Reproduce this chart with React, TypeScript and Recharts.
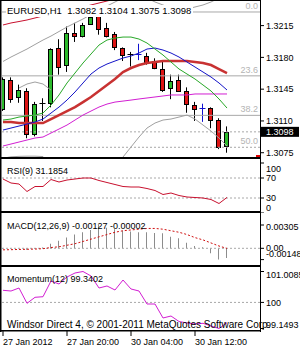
import React from "react";
import { ComposedChart, Line, Bar, XAxis, YAxis, ReferenceLine } from "recharts";

const FONT = '"Liberation Sans", Arial, sans-serif';
const X_DOMAIN: [number, number] = [-0.125, 32.125];

// EURUSD H1 candles
const open = [1.3123, 1.3155, 1.3136, 1.3143, 1.3096, 1.313, 1.313, 1.319, 1.3172, 1.3207, 1.3204, 1.3217, 1.3226, 1.3212, 1.3206, 1.319, 1.3184, 1.3184, 1.3182, 1.3176, 1.3167, 1.3146, 1.3155, 1.3143, 1.3128, 1.3124, 1.3124, 1.3111, 1.3082];
const high = [1.3158, 1.3158, 1.315, 1.3146, 1.3131, 1.3135, 1.319, 1.32, 1.3214, 1.3218, 1.3218, 1.3227, 1.3227, 1.3218, 1.3208, 1.3191, 1.3186, 1.3195, 1.3185, 1.3179, 1.3175, 1.3161, 1.3161, 1.3147, 1.3131, 1.3129, 1.3125, 1.3113, 1.3104];
const low = [1.3121, 1.313, 1.313, 1.3091, 1.3093, 1.311, 1.3125, 1.3161, 1.3164, 1.3197, 1.3202, 1.3216, 1.3205, 1.3202, 1.3188, 1.3176, 1.317, 1.3177, 1.3172, 1.3167, 1.3142, 1.3134, 1.3142, 1.3119, 1.311, 1.3109, 1.3102, 1.3079, 1.3075];
const close = [1.3156, 1.3134, 1.3144, 1.3096, 1.3129, 1.313, 1.3189, 1.3169, 1.3207, 1.3204, 1.3216, 1.3225, 1.3211, 1.3204, 1.3191, 1.3183, 1.3184, 1.31841, 1.3175, 1.3168, 1.3144, 1.3154, 1.3143, 1.3129, 1.3123, 1.31241, 1.3111, 1.3081, 1.3098];

// moving averages and bands
const maFast = [1.3111, 1.31121, 1.31143, 1.31154, 1.31165, 1.31187, 1.31275, 1.31386, 1.31518, 1.31628, 1.31738, 1.31837, 1.31936, 1.31991, 1.32013, 1.32024, 1.32024, 1.32002, 1.31958, 1.31892, 1.31826, 1.31749, 1.31672, 1.31617, 1.31562, 1.31496, 1.3143, 1.31342, 1.31242];
const maMid = [1.31, 1.31022, 1.31044, 1.31066, 1.31088, 1.31121, 1.31187, 1.31253, 1.3133, 1.31419, 1.31518, 1.31617, 1.31683, 1.31727, 1.3176, 1.31793, 1.31815, 1.31848, 1.31892, 1.31903, 1.31881, 1.31848, 1.31804, 1.31749, 1.31694, 1.31639, 1.31584, 1.31518, 1.31441];
const maSlow = [1.31088, 1.31088, 1.31077, 1.31077, 1.31077, 1.31077, 1.31121, 1.31165, 1.31209, 1.31253, 1.31308, 1.31364, 1.3143, 1.31496, 1.31562, 1.31639, 1.31683, 1.31716, 1.31738, 1.31749, 1.3176, 1.3176, 1.3176, 1.3176, 1.31749, 1.31738, 1.31716, 1.31672, 1.31628];
const maLong = [1.30824, 1.30846, 1.30868, 1.3089, 1.30912, 1.30923, 1.30967, 1.31011, 1.31055, 1.3111, 1.31165, 1.31209, 1.31253, 1.31286, 1.31308, 1.31319, 1.3133, 1.31342, 1.31353, 1.31364, 1.31375, 1.31386, 1.31386, 1.31386, 1.31397, 1.31397, 1.31397, 1.31397, 1.31397];
const trendLine = [1.32157, 1.32179, 1.32195, 1.32212, 1.32234, 1.32256, 1.32272, 1.32292, 1.32311, 1.32333, 1.32355, 1.32377, 1.32399, 1.32421, 1.32443, null, null, null, null, null, null, null, null, null, null, null, null, null, null];
const bandUpper = [1.31755, 1.31804, 1.31848, 1.31892, 1.31942, 1.31991, 1.32035, 1.32085, 1.32135, 1.32179, 1.32223, 1.32272, 1.32322, 1.32366, 1.3241, 1.32454, 1.32476, 1.32476, 1.32454, 1.3241, 1.32377, 1.32344, 1.32322, 1.32333, 1.32355, 1.32377, 1.3241, 1.32454, 1.32498];
const bandLower = [1.3069, 1.30705, 1.3071, 1.30712, 1.30712, 1.30708, 1.3062, 1.3052, 1.30445, 1.3038, 1.30335, 1.3031, 1.3031, 1.30335, 1.30581, 1.30703, 1.30813, 1.30923, 1.31022, 1.31077, 1.3111, 1.31121, 1.31143, 1.31165, 1.31121, 1.31055, 1.30989, 1.30912, 1.30824];
const bandArc = [null, null, 1.31463, 1.31507, 1.31529, 1.31507, 1.3144, null, null, null, null, null, null, null, null, null, null, null, null, null, null, null, null, null, null, null, null, null, null];

// Fibonacci retracement
const fibHigh = 1.323;
const fibLow = 1.2932;
const fibLevels = [0, 23.6, 38.2, 50.0];
const bid = 1.3098;
const priceTicks = [1.3215, 1.318, 1.3145, 1.311, 1.3075];

// indicators
const rsi = [68, 60, 58, 43, 53, 53, 67, 62, 66, 68, 70, 70, 65, 61, 57, 53, 52, 52, 49, 45, 37, 40, 35, 32, 31, 30, 27, 19, 31.1854];
const rsiTicks = [100, 70, 30, 0];
const macdMain = [-0.0001, -0.00005, 0, -0.0002, -0.0001, 0.0001, 0.0006, 0.001, 0.0014, 0.0018, 0.0021, 0.0024, 0.00305, 0.0027, 0.0025, 0.0023, 0.0022, 0.0021, 0.0021, 0.002, 0.00196, 0.00152, 0.00131, 0.00073, 0.0003, 0.00013, -0.00065, -0.00148, -0.00127];
const macdSignal = [-0.0002, -0.00018, -0.00015, -0.00013, -0.0001, -0.00005, 0.0001, 0.0002, 0.0004, 0.0006, 0.0009, 0.0012, 0.0015, 0.0018, 0.0021, 0.0023, 0.0024, 0.0025, 0.0026, 0.0026, 0.0025, 0.0023, 0.0021, 0.0018, 0.0014, 0.0011, 0.0007, 0.0003, -0.00002];
const macdTicks = [0.00305, 0, -0.00148];
const momentum = [100.395, 100.372, 100.47, 99.971, 100.167, 100.186, 100.699, 100.601, 100.829, 100.96, 101.0085, 100.862, 100.47, 100.536, 100.405, 100.731, 100.438, 100.372, 99.948, 99.948, 99.492, 99.557, 99.378, 99.329, 99.296, 99.319, 99.231, 99.1493, 99.3402];
const momTicks = [101.0085, 100, 99.1493];

// time axis
const timeTickBars = [0, 8, 16, 24];
const timeTickLabels = ["27 Jan 2012", "27 Jan 20:00", "30 Jan 04:00", "30 Jan 12:00"];

const rows = open.map((o, i) => ({
  i,
  o,
  h: high[i],
  l: low[i],
  c: close[i],
  fast: maFast[i],
  mid: maMid[i],
  slow: maSlow[i],
  long: maLong[i],
  trend: trendLine[i],
  upper: bandUpper[i],
  lower: bandLower[i],
  arc: bandArc[i],
  rsi: rsi[i],
  macd: macdMain[i],
  signal: macdSignal[i],
  mom: momentum[i],
}));

const Candle = (props: any) => {
  const { x, y, width, height, payload } = props;
  const { o, h, l, c } = payload;
  const top = Math.min(y, y + height);
  const span = Math.abs(height);
  const py = (v: number) => top + ((h - v) / (h - l)) * span;
  const cx = Math.floor(x + width / 2) + 0.5;
  const doji = Math.abs(c - o) < 0.00005;
  if (doji) {
    const ink = c > o ? "#1010d0" : "#000";
    const yo = Math.round(py(o)) + 0.5;
    return (
      <g>
        <line x1={cx} x2={cx} y1={py(h)} y2={py(l)} stroke={ink} />
        <line x1={cx - 3} x2={cx + 3} y1={yo} y2={yo} stroke={ink} />
      </g>
    );
  }
  const yTop = Math.round(py(Math.max(o, c))) + 0.5;
  const yBot = Math.round(py(Math.min(o, c))) + 0.5;
  return (
    <g>
      <line x1={cx} x2={cx} y1={py(h)} y2={py(l)} stroke="#000" />
      <rect x={cx - 2} y={yTop} width={4} height={Math.max(1, yBot - yTop)} fill={c > o ? "#2cba2c" : "#dc1414"} stroke="#000" />
    </g>
  );
};

const axisTick = (fmt: (v: number) => string, shift: Record<string, number> = {}) => (props: any) => {
  const { x, y, payload } = props;
  const dy = shift[String(payload.value)] ?? 0;
  return (
    <text x={x} y={y + dy} dy="0.35em" fontSize={9} fontFamily={FONT} fill="#000">
      {fmt(payload.value)}
    </text>
  );
};

const TimeTick = (props: any) => {
  const { x, y, payload } = props;
  const idx = timeTickBars.indexOf(payload.value);
  return (
    <text x={Math.floor(x)} y={y + 9} fontSize={9} fontFamily={FONT} fill="#000">
      {timeTickLabels[idx]}
    </text>
  );
};

const fibLabel = (lvl: number) => (props: any) => {
  const vb = props.viewBox;
  return (
    <text x={vb.x + vb.width - 2} y={vb.y - 3} textAnchor="end" fontSize={9} fontFamily={FONT} fill="#b4b4b4">
      {lvl.toFixed(1)}
    </text>
  );
};

const BidTag = (props: any) => {
  const vb = props.viewBox;
  return (
    <g>
      <rect x={vb.x + vb.width + 1} y={vb.y - 5} width={38} height={10} fill="#000" />
      <text x={vb.x + vb.width + 6} y={vb.y} dy="0.35em" fontSize={9} fontFamily={FONT} fill="#fff">
        {bid.toFixed(4)}
      </text>
    </g>
  );
};

const axisProps = {
  orientation: "right" as const,
  width: 40,
  tickSize: 4,
  tickMargin: 2,
  axisLine: false,
  tickLine: { stroke: "#000" },
  interval: 0 as const,
  allowDataOverflow: true,
};

const xHidden = <XAxis dataKey="i" type="number" domain={X_DOMAIN} allowDataOverflow hide />;

const pos = (top: number): React.CSSProperties => ({ position: "absolute", left: 0, top });

export default function App() {
  return (
    <div style={{ position: "fixed", left: 0, top: 0, width: 300, height: 350, background: "#fff", overflow: "hidden" }}>
      {/* main price window */}
      <div style={pos(0)}>
        <ComposedChart width={300} height={160} data={rows} margin={{ top: 1, right: 0, bottom: 2, left: 2 }}>
          {xHidden}
          <YAxis {...axisProps} domain={[1.30692, 1.32421]} ticks={priceTicks} tick={axisTick((v) => v.toFixed(4))} />
          {fibLevels.map((lvl) => (
            <ReferenceLine
              key={lvl}
              y={fibHigh - ((fibHigh - fibLow) * lvl) / 100}
              stroke="#a8a8a8"
              strokeDasharray={lvl === 50 ? "2 2" : undefined}
              label={fibLabel(lvl)}
            />
          ))}
          <ReferenceLine y={bid} stroke="#a8a8a8" strokeDasharray="2 2" label={BidTag} />
          <Bar dataKey={(d: any) => [d.l, d.h]} barSize={5} shape={Candle} isAnimationActive={false} />
          <Line dataKey="upper" stroke="#a0a0a0" dot={false} strokeWidth={1} isAnimationActive={false} />
          <Line dataKey="lower" stroke="#a0a0a0" dot={false} strokeWidth={1} isAnimationActive={false} />
          <Line dataKey="arc" stroke="#a0a0a0" dot={false} strokeWidth={1} isAnimationActive={false} />
          <Line dataKey="trend" stroke="#c8102e" dot={false} strokeWidth={1} isAnimationActive={false} />
          <Line dataKey="long" stroke="#d21ed2" dot={false} strokeWidth={1} isAnimationActive={false} />
          <Line dataKey="slow" stroke="#c83232" dot={false} strokeWidth={2.5} isAnimationActive={false} />
          <Line dataKey="mid" stroke="#1414c8" dot={false} strokeWidth={1} isAnimationActive={false} />
          <Line dataKey="fast" stroke="#28a828" dot={false} strokeWidth={1} isAnimationActive={false} />
        </ComposedChart>
      </div>

      {/* RSI window */}
      <div style={pos(159)}>
        <ComposedChart width={300} height={54} data={rows} margin={{ top: 4, right: 0, bottom: 0, left: 2 }}>
          {xHidden}
          <YAxis {...axisProps} domain={[0, 100]} ticks={rsiTicks} tick={axisTick((v) => String(v), { "100": 6, "0": -5.5 })} />
          <ReferenceLine y={70} stroke="#a8a8a8" strokeDasharray="2 2" />
          <ReferenceLine y={30} stroke="#a8a8a8" strokeDasharray="2 2" />
          <Line dataKey="rsi" stroke="#c8102e" dot={false} strokeWidth={1} isAnimationActive={false} />
        </ComposedChart>
      </div>

      {/* MACD window */}
      <div style={pos(213)}>
        <ComposedChart width={300} height={53} data={rows} margin={{ top: 0, right: 0, bottom: 0, left: 2 }}>
          {xHidden}
          <YAxis
            {...axisProps}
            domain={[-0.002317, 0.004621]}
            ticks={macdTicks}
            tick={axisTick((v) => (v === 0 ? "0.00" : v.toFixed(5)), { "0.00305": 1.7, "-0.00148": -5.3 })}
          />
          <ReferenceLine y={0} stroke="#a8a8a8" strokeDasharray="2 2" />
          <Bar dataKey="macd" barSize={1} fill="#8c8c8c" isAnimationActive={false} />
          <Line dataKey="signal" stroke="#d01010" strokeDasharray="2 2" dot={false} strokeWidth={1} isAnimationActive={false} />
        </ComposedChart>
      </div>

      {/* Momentum window + time axis */}
      <div style={pos(268)}>
        <ComposedChart width={300} height={82} data={rows} margin={{ top: 0, right: 0, bottom: 0, left: 2 }}>
          <XAxis
            dataKey="i"
            type="number"
            domain={X_DOMAIN}
            allowDataOverflow
            ticks={timeTickBars}
            interval={0}
            height={19}
            axisLine={false}
            tickSize={5}
            tickMargin={0}
            tickLine={{ stroke: "#000" }}
            tick={TimeTick}
          />
          <YAxis
            {...axisProps}
            domain={[99.0678, 101.1227]}
            ticks={momTicks}
            tick={axisTick((v) => (v === 100 ? "100" : v.toFixed(4)), { "101.0085": 3.5, "99.1493": -3.2 })}
          />
          <ReferenceLine y={100} stroke="#a8a8a8" strokeDasharray="2 2" />
          <Line dataKey="mom" stroke="#d21ed2" dot={false} strokeWidth={1} isAnimationActive={false} />
        </ComposedChart>
      </div>

      {/* window frames and captions */}
      <svg width={300} height={350} style={{ position: "absolute", left: 0, top: 0, pointerEvents: "none" }}>
        <g fill="#000">
          <rect x={0} y={0} width={261} height={1} />
          <rect x={0} y={0} width={1.5} height={332} />
          <rect x={260} y={0} width={1} height={332} />
          <rect x={0} y={157} width={261} height={2} />
          <rect x={0} y={211} width={261} height={2} />
          <rect x={0} y={265} width={261} height={2} />
          <rect x={0} y={330} width={261} height={1.5} />
        </g>
        <rect x={256} y={155} width={4} height={2} fill="#e00000" />
        <g fontSize={9} fontFamily={FONT} fill="#000">
          <text x={7} y={174}>RSI(9) 31.1854</text>
          <text x={7} y={229}>MACD(12,26,9) -0.00127 -0.00002</text>
          <text x={7} y={281.5}>Momentum(12) 99.3402</text>
          <text x={7} y={328} fontSize={10}>Windsor Direct 4, © 2001-2011 MetaQuotes Software Corp.</text>
        </g>
      </svg>
      <div
        style={{
          position: "absolute",
          left: 6,
          top: 5,
          background: "#fff",
          fontFamily: FONT,
          fontSize: 9.5,
          lineHeight: "12px",
          whiteSpace: "pre",
          padding: "0 2px 0 1px",
        }}
      >
        {"EURUSD,H1  1.3082 1.3104 1.3075 1.3098"}
      </div>
    </div>
  );
}
